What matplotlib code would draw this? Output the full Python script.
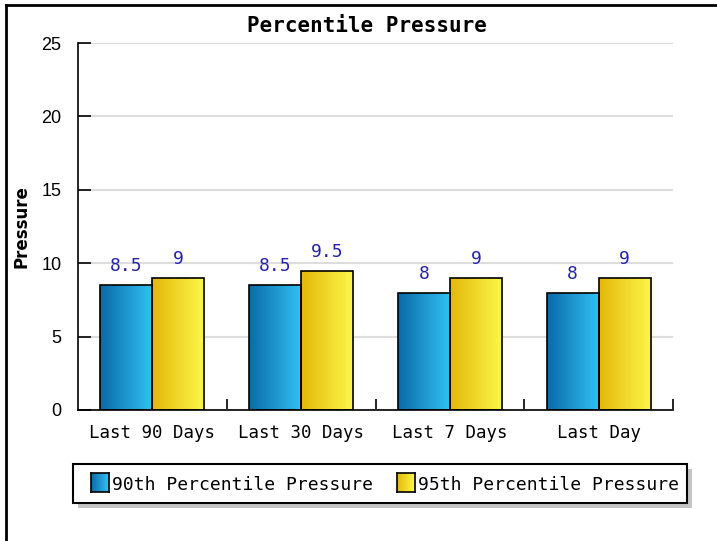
import numpy as np
import matplotlib
matplotlib.use("Agg")
import matplotlib.pyplot as plt
from matplotlib.colors import LinearSegmentedColormap
from matplotlib.patches import Rectangle
from matplotlib.lines import Line2D

categories = ["Last 90 Days", "Last 30 Days", "Last 7 Days", "Last Day"]
p90 = [8.5, 8.5, 8, 8]
p95 = [9, 9.5, 9, 9]
p90_labels = ["8.5", "8.5", "8", "8"]
p95_labels = ["9", "9.5", "9", "9"]
series_names = ["90th Percentile Pressure", "95th Percentile Pressure"]
yticks = [0, 5, 10, 15, 20, 25]

mono = "DejaVu Sans Mono"
blue_cmap = LinearSegmentedColormap.from_list("b", ["#0b6aa8", "#31c2f4"])
yellow_cmap = LinearSegmentedColormap.from_list("y", ["#e4b80a", "#fcf84a"])

fig = plt.figure(figsize=(7.17, 5.41), dpi=100)
ax = fig.add_axes([78 / 717, 1 - 410 / 541, 595 / 717, 367 / 541])

x = np.arange(len(categories))
w = 0.35
grad = np.linspace(0, 1, 256).reshape(1, -1)


def gradient_bars(xs, vals, cmap):
    bars = ax.bar(xs, vals, w, color="none", edgecolor="black", linewidth=1.2, zorder=3)
    for b in bars:
        x0, y0 = b.get_x(), b.get_y()
        im = ax.imshow(grad, cmap=cmap, aspect="auto", zorder=2,
                       extent=[x0, x0 + b.get_width(), y0, y0 + b.get_height()])
        im.set_clip_path(b)
    return bars


b1 = gradient_bars(x - w / 2, p90, blue_cmap)
b2 = gradient_bars(x + w / 2, p95, yellow_cmap)

for bars, labs in ((b1, p90_labels), (b2, p95_labels)):
    for b, t in zip(bars, labs):
        ax.annotate(t, (b.get_x() + b.get_width() / 2, b.get_height()),
                    xytext=(0, 7), textcoords="offset points", ha="center", va="bottom",
                    family=mono, fontsize=13, color="#2424a8")

ax.set_xlim(-0.5, len(categories) - 0.5)
ax.set_ylim(0, 25)
ax.set_yticks(yticks)
ax.set_yticklabels([str(v) for v in yticks], fontsize=13, family="Liberation Sans")
ax.yaxis.grid(True, color="#dddddd", linewidth=1.5, zorder=0)
ax.set_axisbelow(True)
ax.tick_params(axis="y", direction="in", length=9, width=1.2, pad=12)

ax.set_xticks(x)
ax.set_xticklabels(categories, family=mono, fontsize=12.5)
ax.tick_params(axis="x", length=0, pad=10)
ax.set_xticks(np.arange(len(categories)) + 0.5, minor=True)
ax.tick_params(axis="x", which="minor", direction="in", length=8, width=1.2)

for s in ("top", "right"):
    ax.spines[s].set_visible(False)
for s in ("left", "bottom"):
    ax.spines[s].set_linewidth(1.2)

ax.set_title("Percentile Pressure", family=mono, fontweight="bold", fontsize=15, pad=8, x=0.485)
ax.set_ylabel("Pressure", family="DejaVu Sans", fontweight="bold", fontsize=12, labelpad=8)

# legend box with shadow
lx0, ly0, lx1, ly1 = 73 / 717, 1 - 503 / 541, 687 / 717, 1 - 464 / 541
fig.patches.append(Rectangle((lx0 + 5 / 717, ly0 - 5 / 541), lx1 - lx0, ly1 - ly0,
                             transform=fig.transFigure, facecolor="#c4c4c4", edgecolor="none"))
fig.patches.append(Rectangle((lx0, ly0), lx1 - lx0, ly1 - ly0, transform=fig.transFigure,
                             facecolor="white", edgecolor="black", linewidth=1.5))
ly = (ly0 + ly1) / 2
for name, cmap, sx in ((series_names[0], blue_cmap, 91), (series_names[1], yellow_cmap, 397)):
    sq = fig.add_axes([sx / 717, 1 - 492 / 541, 18 / 717, 19 / 541])
    sq.set_zorder(5)
    sq.imshow(grad, cmap=cmap, aspect="auto")
    sq.set_xticks([])
    sq.set_yticks([])
    for sp in sq.spines.values():
        sp.set_linewidth(1.2)
    fig.text((sx + 21) / 717, ly - 1 / 541, name, family=mono, fontsize=13, va="center", ha="left")

# outer frame (left and top)
fig.add_artist(Line2D([6 / 717, 6 / 717], [0, 1 - 5 / 541], color="black", linewidth=2,
                      transform=fig.transFigure))
fig.add_artist(Line2D([6 / 717, 1], [1 - 5 / 541, 1 - 5 / 541], color="black", linewidth=2,
                      transform=fig.transFigure))

fig.savefig("out.png", dpi=100)
